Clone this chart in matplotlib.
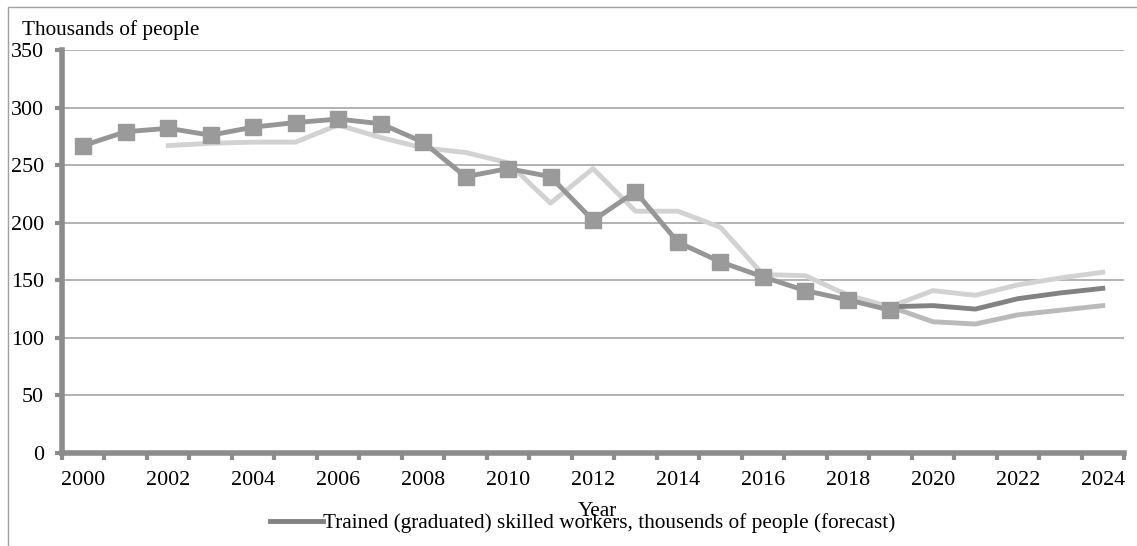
import matplotlib.pyplot as plt
from matplotlib.patches import Rectangle

# -------------------------------
# Data
# -------------------------------

years = list(range(2000, 2025))

# actual graduates (with markers), 2000-2019
actual = [267, 279, 282, 276, 283, 287, 290, 286, 270, 240, 247, 240, 202, 227,
          183, 166, 153, 141, 133, 124]

# forecast line, 2019-2024
forecast = [127, 128, 125, 134, 139, 143]

# upper light line, 2002-2024
upper = [267, 269, 270, 270, 285, 274, 265, 261, 252, 217, 247, 210, 210, 196,
         155, 154, 137, 127, 141, 137, 146, 152, 157]

# lower line, 2019-2024
lower = [127, 114, 112, 120, 124, 128]

tick_years = years[::2]

plt.rcParams['font.family'] = ['Liberation Serif', 'DejaVu Serif']

fig = plt.figure(figsize=(11.37, 5.46), dpi=100)
ax = fig.add_axes([62 / 1137, 93 / 546, (1124 - 62) / 1137, 403 / 546])

idx = {y: i for i, y in enumerate(years)}
x_actual = [idx[y] for y in years[:len(actual)]]
x_upper = [idx[y] for y in years[2:2 + len(upper)]]
x_fc = [idx[y] for y in years[19:19 + len(forecast)]]

ax.plot(x_upper, upper, color='#d2d2d2', lw=3.5, zorder=3)
ax.plot(x_fc, lower, color='#bababa', lw=3.5, zorder=3)
ax.plot(x_fc, forecast, color='#828282', lw=3.5, zorder=4,
        label='Trained (graduated) skilled workers, thousends of people (forecast)')
ax.plot(x_actual, actual, color='#969696', lw=3.5, marker='s', markersize=11,
        markerfacecolor='#9a9a9a', markeredgecolor='#9a9a9a', zorder=5)

ax.set_xlim(-0.5, len(years) - 0.5)
ax.set_ylim(0, 350)
ax.set_yticks(range(0, 351, 50))
ax.set_xticks([idx[y] for y in tick_years])
ax.set_xticklabels([str(y) for y in tick_years])
ax.set_xticks([i - 0.5 for i in range(len(years) + 1)], minor=True)

ax.grid(axis='y', color='#a6a6a6', lw=1.2, zorder=0)
ax.set_axisbelow(True)

for s in ['top', 'right']:
    ax.spines[s].set_visible(False)
for s in ['left', 'bottom']:
    ax.spines[s].set_color('#8c8c8c')
    ax.spines[s].set_linewidth(4)

ax.tick_params(axis='x', which='major', length=0, pad=13, labelsize=15.8)
ax.tick_params(axis='x', which='minor', length=5, width=3, color='#8c8c8c')
ax.tick_params(axis='y', length=5, width=3, color='#8c8c8c', pad=8, labelsize=15.8)

fig.text(22 / 1137, 1 - 30 / 546, 'Thousands of people', fontsize=15.3, va='center', ha='left')
fig.text(597 / 1137, 1 - 512 / 546, 'Year', fontsize=15.3, va='center', ha='center')

fig.legend(loc='center', bbox_to_anchor=(583 / 1137, 1 - 523 / 546), frameon=False,
           fontsize=15.3, handlelength=2.5, handletextpad=0.0, borderpad=0)

fig.patches.append(Rectangle((8 / 1137, -0.1), 1.2, 1.1 - 7 / 546, transform=fig.transFigure,
                             fill=False, edgecolor='#a0a0a0', lw=1, figure=fig))

fig.savefig('out.png', dpi=100)
